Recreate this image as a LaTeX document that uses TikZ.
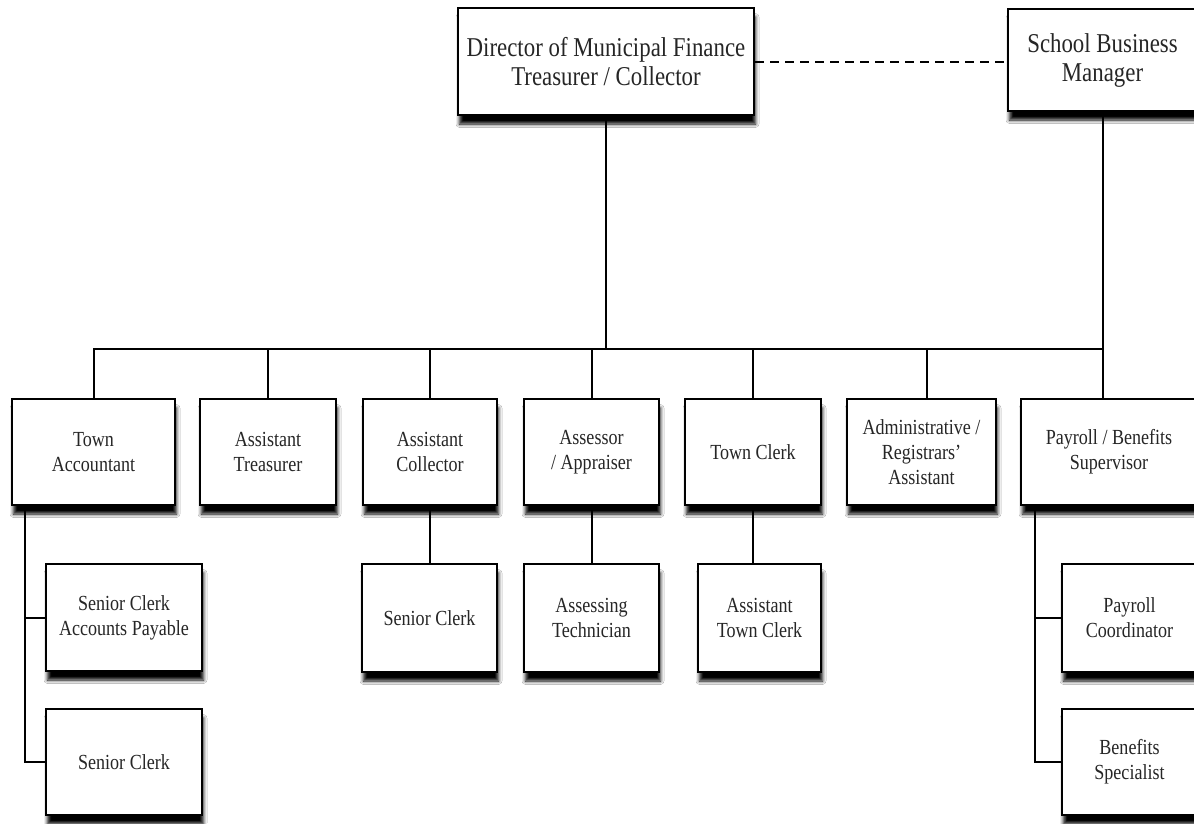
\documentclass[tikz,border=0pt]{standalone}
\usepackage{fontspec}
\setmainfont{Liberation Serif}[FakeStretch=0.84]
\usetikzlibrary{shadows.blur}
\begin{document}
\begin{tikzpicture}[x=1pt,y=-1pt,
  box/.style={draw=black, line width=2.6pt, fill=white, align=center, inner sep=2pt,
    text=black!85, font=\fontsize{21.5}{25}\selectfont,
    blur shadow={shadow xshift=1.5pt, shadow yshift=-9pt, shadow blur radius=3.5pt, shadow opacity=100, shadow blur steps=6}},
  bigbox/.style={box, font=\fontsize{27.2}{29}\selectfont},
  conn/.style={draw=black, line width=2pt}]
\useasboundingbox[fill=white] (0,0) rectangle (1194,823);
% top
\node[bigbox, minimum width=296pt, minimum height=107pt] (dir) at (606,61.5) {Director of Municipal Finance\\Treasurer / Collector};
\node[bigbox, minimum width=189pt, minimum height=102pt] (sbm) at (1102.5,60) {School Business\\Manager};
% row 1
\node[box, minimum width=163pt, minimum height=106pt] (ta) at (93.5,452) {Town\\Accountant};
\node[box, minimum width=136pt, minimum height=106pt] (at) at (268,452) {Assistant\\Treasurer};
\node[box, minimum width=134pt, minimum height=106pt] (ac) at (430,452) {Assistant\\Collector};
\node[box, minimum width=135pt, minimum height=106pt] (as) at (591.5,452) {Assessor\\/ Appraiser};
\node[box, minimum width=136pt, minimum height=106pt] (tc) at (753,452) {Town Clerk};
\node[box, minimum width=149pt, minimum height=106pt] (ad) at (921.5,452) {Administrative /\\Registrars’\\Assistant};
\node[box, minimum width=176pt, minimum height=106pt] (pb) at (1109,452) {Payroll / Benefits\\Supervisor};
% row 2
\node[box, minimum width=156pt, minimum height=107pt] (sc1) at (124,617.5) {Senior Clerk\\Accounts Payable};
\node[box, minimum width=135pt, minimum height=108pt] (sc2) at (429.5,618) {Senior Clerk};
\node[box, minimum width=135pt, minimum height=108pt] (ast) at (591.5,618) {Assessing\\Technician};
\node[box, minimum width=123pt, minimum height=108pt] (atc) at (759.5,618) {Assistant\\Town Clerk};
\node[box, minimum width=135pt, minimum height=108pt] (pc) at (1129.5,618) {Payroll\\Coordinator};
% row 3
\node[box, minimum width=156pt, minimum height=106pt] (sc3) at (124,762) {Senior Clerk};
\node[box, minimum width=135pt, minimum height=106pt] (bs) at (1129.5,762) {Benefits\\Specialist};
% connectors
\coordinate (busL) at (93,349);
\coordinate (busR) at (1103,349);
\draw[conn] (busL) -- (busR);
\draw[conn] (dir.south) -- (dir.south |- busL);
\draw[conn] (sbm.south) -- (sbm.south |- pb.north);
\draw[conn, dash pattern=on 9pt off 6pt] (dir.east) -- (dir.east -| sbm.west);
\draw[conn] (ta.north) -- (ta.north |- busL);
\draw[conn] (at.north) -- (at.north |- busL);
\draw[conn] (ac.north) -- (ac.north |- busL);
\draw[conn] (as.north) -- (as.north |- busL);
\draw[conn] (tc.north) -- (tc.north |- busL);
\coordinate (adtop) at ([xshift=5.5pt]ad.north);
\draw[conn] (adtop) -- (adtop |- busL);
\draw[conn] (ac.south) -- (ac.south |- sc2.north);
\draw[conn] (as.south) -- (as.south |- ast.north);
\draw[conn] (tc.south) -- (tc.south |- atc.north);
\coordinate (tal) at ([xshift=14pt]ta.south west);
\draw[conn] (tal) |- (sc3.west);
\draw[conn] (tal |- sc1.west) -- (sc1.west);
\coordinate (pbl) at ([xshift=15pt]pb.south west);
\draw[conn] (pbl) |- (bs.west);
\draw[conn] (pbl |- pc.west) -- (pc.west);
\end{tikzpicture}
\end{document}
